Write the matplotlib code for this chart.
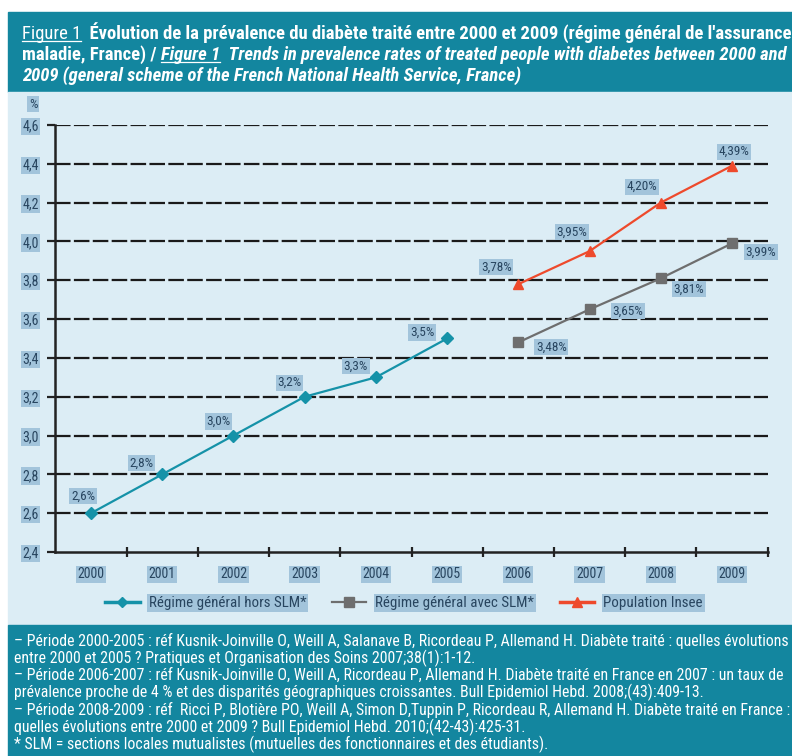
import matplotlib
matplotlib.use("Agg")
from matplotlib import pyplot as plt
from matplotlib import font_manager
from matplotlib.lines import Line2D
from matplotlib.patches import Rectangle
import numpy as np

# data
years = ["2000", "2001", "2002", "2003", "2004", "2005", "2006", "2007", "2008", "2009"]
hors_slm_years = [0, 1, 2, 3, 4, 5]
hors_slm = [2.6, 2.8, 3.0, 3.2, 3.3, 3.5]
hors_slm_lbl = ["2,6%", "2,8%", "3,0%", "3,2%", "3,3%", "3,5%"]
avec_slm_years = [6, 7, 8, 9]
avec_slm = [3.48, 3.65, 3.81, 3.99]
avec_slm_lbl = ["3,48%", "3,65%", "3,81%", "3,99%"]
insee_years = [6, 7, 8, 9]
insee = [3.78, 3.95, 4.20, 4.39]
insee_lbl = ["3,78%", "3,95%", "4,20%", "4,39%"]
yticks = [2.4, 2.6, 2.8, 3.0, 3.2, 3.4, 3.6, 3.8, 4.0, 4.2, 4.4, 4.6]

legend_names = ["Régime général hors SLM*", "Régime général avec SLM*", "Population Insee"]

notes = [
    "– Période 2000-2005 : réf Kusnik-Joinville O, Weill A, Salanave B, Ricordeau P, Allemand H. Diabète traité : quelles évolutions",
    "entre 2000 et 2005 ? Pratiques et Organisation des Soins 2007;38(1):1-12.",
    "– Période 2006-2007 : réf Kusnik-Joinville O, Weill A, Ricordeau P, Allemand H. Diabète traité en France en 2007 : un taux de",
    "prévalence proche de 4 % et des disparités géographiques croissantes. Bull Epidemiol Hebd. 2008;(43):409-13.",
    "– Période 2008-2009 : réf  Ricci P, Blotière PO, Weill A, Simon D,Tuppin P, Ricordeau R, Allemand H. Diabète traité en France :",
    "quelles évolutions entre 2000 et 2009 ? Bull Epidemiol Hebd. 2010;(42-43):425-31.",
    "* SLM = sections locales mutualistes (mutuelles des fonctionnaires et des étudiants).",
]


def pick_font(names):
    for n in names:
        try:
            font_manager.findfont(font_manager.FontProperties(family=n), fallback_to_default=False)
            return n
        except Exception:
            pass
    return "DejaVu Sans"


FONT = pick_font(["Liberation Sans Narrow", "Roboto Condensed", "Open Sans Condensed", "Liberation Sans"])
plt.rcParams["font.family"] = FONT

TEAL_HEAD = "#13869f"
PANEL = "#dcedf5"
HILITE = "#a2c4db"
TXT = "#28455f"
C_HORS = "#1592a8"
C_AVEC = "#6e6e6e"
C_INSEE = "#ee4a2c"

W, H = 792, 756
fig = plt.figure(figsize=(W / 100, H / 100), dpi=100)
fig.patch.set_facecolor("white")


def box(x0, y0, x1, y1, color):
    # pixel coordinates from the top-left corner
    fig.patches.append(Rectangle((x0 / W, 1 - y1 / H), (x1 - x0) / W, (y1 - y0) / H,
                                 transform=fig.transFigure, color=color, zorder=-5))


box(8, 12, W, 92, TEAL_HEAD)
box(8, 92, W, 625, PANEL)
box(8, 625, W, H, TEAL_HEAD)

ax = fig.add_axes([55.4 / W, 1 - 552 / H, (767.6 - 55.4) / W, (552 - 125) / H])
ax.set_facecolor("none")

hl = dict(boxstyle="square,pad=0.12", fc=HILITE, ec="none")

ax.plot(hors_slm_years, hors_slm, color=C_HORS, lw=1.6, marker="D", ms=6, zorder=3)
ax.plot(avec_slm_years, avec_slm, color=C_AVEC, lw=1.6, marker="s", ms=7, zorder=3)
ax.plot(insee_years, insee, color=C_INSEE, lw=1.6, marker="^", ms=6.5, zorder=3)

offs_hors = [(-8, 17), (-21, 11), (-15, 14), (-15, 14), (-20, 11), (-25, 6)]
offs_avec = [(33, -5), (38, -2), (28, -11), (29, -9)]
offs_insee = [(-22, 17), (-18, 19), (-19, 16), (2, 14)]
for xs, ys, labs, offs in [(hors_slm_years, hors_slm, hors_slm_lbl, offs_hors),
                           (avec_slm_years, avec_slm, avec_slm_lbl, offs_avec),
                           (insee_years, insee, insee_lbl, offs_insee)]:
    for x, y, s, o in zip(xs, ys, labs, offs):
        ax.annotate(s, (x, y), xytext=o, textcoords="offset pixels", ha="center", va="center",
                    fontsize=9.5, color=TXT, bbox=hl, zorder=4)

ax.set_xlim(-0.5, 9.5)
ax.set_ylim(2.4, 4.6)
ax.set_yticks(yticks)
ax.set_yticklabels([("%.1f" % v).replace(".", ",") for v in yticks])
ax.set_xticks(range(len(years)))
ax.set_xticklabels(years)
ax.set_xticks(np.arange(0.5, 9.6, 1), minor=True)

for v in yticks[1:]:
    ax.axhline(v, color="#1a1a1a", lw=1.6, dashes=(7, 1.5), zorder=1)

for s in ["top", "right"]:
    ax.spines[s].set_visible(False)
ax.spines["left"].set_color("#222222")
ax.spines["bottom"].set_color("#222222")
ax.spines["left"].set_linewidth(1.8)
ax.spines["bottom"].set_linewidth(1.8)
ax.tick_params(axis="y", direction="out", length=6, width=1.6, color="#222222", pad=6,
               labelsize=10, labelcolor=TXT)
ax.tick_params(axis="x", which="major", length=0, pad=11, labelsize=10, labelcolor=TXT)
ax.tick_params(axis="x", which="minor", direction="inout", length=7, width=1.6, color="#222222")
for t in ax.get_xticklabels() + ax.get_yticklabels():
    t.set_bbox(hl)

fig.text(33 / W, 1 - 104 / H, "%", fontsize=9.5, color=TXT, ha="center", va="center", bbox=hl)

# legend
handles = [Line2D([], [], color=C_HORS, lw=2.5, marker="D", ms=5),
           Line2D([], [], color=C_AVEC, lw=1.6, marker="s", ms=7),
           Line2D([], [], color=C_INSEE, lw=2.5, marker="^", ms=7)]
leg = fig.legend(handles, legend_names, loc="center", bbox_to_anchor=(404 / W, 1 - 603 / H),
                 ncol=3, frameon=False, fontsize=10.8, handlelength=2.3, columnspacing=1.7,
                 handletextpad=0.6)
for t in leg.get_texts():
    t.set_color(TXT)
    t.set_bbox(hl)

# title with mixed styles
fig.canvas.draw()
renderer = fig.canvas.get_renderer()


def runs(y, pieces, x=22, size=13.4):
    for s, weight, style, under in pieces:
        t = fig.text(x / W, 1 - y / H, s, fontsize=size, color="white", weight=weight,
                     style=style, ha="left", va="baseline")
        bb = t.get_window_extent(renderer)
        if under:
            fig.lines.append(Line2D([x / W, (x + bb.width) / W], [1 - (y + 2) / H] * 2,
                                    transform=fig.transFigure, color="white", lw=0.9))
        x += bb.width


runs(39, [("Figure 1", "normal", "normal", True),
          ("  Évolution de la prévalence du diabète traité entre 2000 et 2009 (régime général de l'assurance",
           "bold", "normal", False)])
runs(60, [("maladie, France) / ", "bold", "normal", False),
          ("Figure 1", "bold", "italic", True),
          ("  Trends in prevalence rates of treated people with diabetes between 2000 and",
           "bold", "italic", False)])
runs(81, [("2009 (general scheme of the French National Health Service, France)", "bold", "italic", False)])

for i, line in enumerate(notes):
    fig.text(14 / W, 1 - (641 + i * 17.2) / H, line, fontsize=11.4, color="white",
             ha="left", va="center")

fig.savefig("out.png", dpi=100, facecolor=fig.get_facecolor())
